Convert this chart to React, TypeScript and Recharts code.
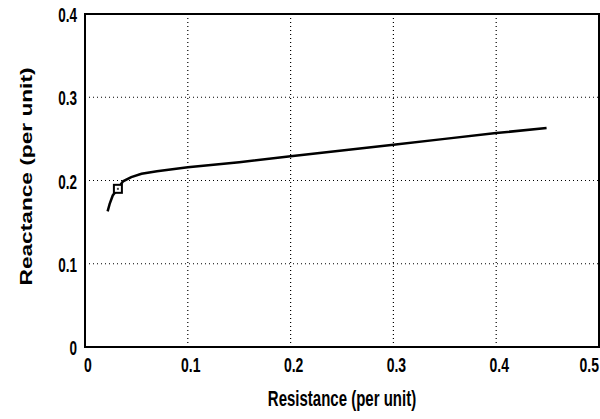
import React from 'react';
import {
  ComposedChart,
  Line,
  Scatter,
  XAxis,
  YAxis,
  CartesianGrid,
  ReferenceArea,
} from 'recharts';

// resistance / reactance locus (per unit)
const resistance = [0.022, 0.024, 0.027, 0.032, 0.037, 0.045, 0.055, 0.07, 0.1, 0.15, 0.2, 0.25, 0.3, 0.35, 0.4, 0.449];
const reactance = [0.163, 0.172, 0.182, 0.19, 0.199, 0.204, 0.208, 0.211, 0.216, 0.222, 0.229, 0.236, 0.243, 0.25, 0.257, 0.263];

// the small square marker near the start of the curve
const markerR = [0.032];
const markerX = [0.19];

const xTicks = [0, 0.1, 0.2, 0.3, 0.4, 0.5];
const yTicks = [0, 0.1, 0.2, 0.3, 0.4];

const curve = resistance.map((r, i) => ({ r, x: reactance[i] }));
const marker = markerR.map((r, i) => ({ r, x: markerX[i] }));

const FONT = '"Liberation Sans", Arial, sans-serif';
// the scan is stretched vertically, so text is drawn taller than wide
const STRETCH = 1.45;

function fmt(v: number) {
  return v === 0 ? '0' : String(v);
}

function XTick(props: any) {
  const { x, y, payload } = props;
  // last label sits on the right edge, keep it inside the page
  const last = payload.value === xTicks[xTicks.length - 1];
  return (
    <g transform={`translate(${last ? 599 : x + 3},${y + 18}) scale(1,${STRETCH})`}>
      <text x={0} y={0} dy="0.36em" textAnchor={last ? 'end' : 'middle'} fontFamily={FONT} fontWeight="bold" fontSize={14} fill="#000">
        {fmt(payload.value)}
      </text>
    </g>
  );
}

function YTick(props: any) {
  const { x, y, payload } = props;
  return (
    <g transform={`translate(${x},${y + 1}) scale(1,${STRETCH})`}>
      <text x={0} y={0} dy="0.36em" textAnchor="end" fontFamily={FONT} fontWeight="bold" fontSize={13.5} fill="#000">
        {fmt(payload.value)}
      </text>
    </g>
  );
}

function XTitle(props: any) {
  const vb = props.viewBox || { x: 0, y: 0, width: 0, height: 0 };
  const cx = vb.x + vb.width / 2;
  const cy = vb.y + 51;
  return (
    <g transform={`translate(${cx},${cy}) scale(1,1.45)`}>
      <text x={0} y={0} dy="0.36em" textAnchor="middle" fontFamily={FONT} fontWeight="bold" fontSize={15} fill="#000">
        Resistance (per unit)
      </text>
    </g>
  );
}

function YTitle(props: any) {
  const vb = props.viewBox || { x: 0, y: 0, width: 0, height: 0 };
  const cx = vb.x + 26;
  const cy = vb.y + vb.height / 2 - 4;
  return (
    <text
      transform={`translate(${cx},${cy}) rotate(-90)`}
      x={0}
      y={0}
      dy="0.36em"
      textAnchor="middle"
      fontFamily={FONT}
      fontWeight="bold"
      fontSize={16}
      fill="#000"
      textLength={218}
      lengthAdjust="spacingAndGlyphs"
    >
      Reactance (per unit)
    </text>
  );
}

function SquareMark(props: any) {
  const { cx, cy } = props;
  return (
    <g>
      <rect x={cx - 4} y={cy - 4} width={8} height={8} fill="#fff" stroke="#000" strokeWidth={2} />
      <rect x={cx - 1} y={cy - 1} width={2} height={2} fill="#444" />
    </g>
  );
}

export default function App() {
  return (
    <div style={{ position: 'absolute', left: 0, top: 0, width: 600, height: 419, background: '#fff' }}>
      <ComposedChart
        width={600}
        height={419}
        data={curve}
        margin={{ top: 14, right: 1, bottom: 0, left: 0 }}
      >
        <CartesianGrid stroke="#000" strokeDasharray="1 3" strokeWidth={1.2} />
        <XAxis
          dataKey="r"
          type="number"
          domain={[0, 0.5]}
          ticks={xTicks}
          allowDataOverflow
          axisLine={false}
          tickLine={false}
          tickSize={0}
          tickMargin={0}
          height={72}
          tick={<XTick />}
          label={<XTitle />}
        />
        <YAxis
          type="number"
          domain={[0, 0.4]}
          ticks={yTicks}
          allowDataOverflow
          axisLine={false}
          tickLine={false}
          tickSize={0}
          tickMargin={8}
          width={85}
          tick={<YTick />}
          label={<YTitle />}
        />
        <ReferenceArea x1={0} x2={0.5} y1={0} y2={0.4} fill="none" fillOpacity={0} stroke="#000" strokeWidth={2} />
        <Line
          dataKey="x"
          type="linear"
          stroke="#000"
          strokeWidth={2.5}
          dot={false}
          activeDot={false}
          isAnimationActive={false}
        />
        <Scatter data={marker} dataKey="x" shape={<SquareMark />} isAnimationActive={false} />
      </ComposedChart>
    </div>
  );
}
